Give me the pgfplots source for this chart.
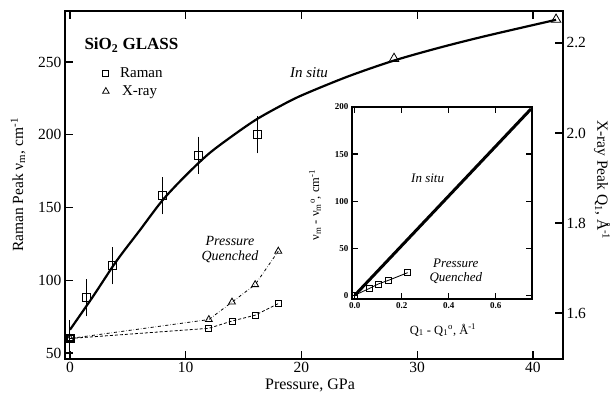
\documentclass[border=0pt]{standalone}
\usepackage{fontspec}
\setmainfont{Liberation Serif}
\usepackage{pgfplots}
\pgfplotsset{compat=1.18}
\begin{document}
\begin{tikzpicture}[x=1pt,y=1pt]
\path[use as bounding box] (-65pt,-39pt) rectangle (549pt,359pt);
\pgfplotsset{every axis/.append style={/pgf/number format/assume math mode=true}}
% main left axis
\begin{axis}[at={(0pt,0pt)}, anchor=south west, scale only axis, width=498pt, height=348pt,
  xmin=-0.43, xmax=42.6, ymin=45.9, ymax=285.05,
  xtick={0,10,20,30,40}, ytick={50,100,150,200,250},
  xtick pos=both, ytick pos=left, tick align=inside,
  major tick length=8pt, axis line style={line width=1.4pt},
  every tick/.style={line width=1.2pt, black},
  tick label style={font=\fontsize{15.5}{16}\selectfont},
  legend style={at={(0.069,0.85)}, anchor=north west, draw=none, fill=none,
    font=\fontsize{15}{15}\selectfont, row sep=3pt, legend cell align=left},
  legend image code/.code={\draw[#1] plot coordinates {(0.25cm,0cm)};},
]
\addlegendimage{only marks, mark=square, mark size=3pt, line width=0.8pt}
\addlegendentry{\hspace{9pt}Raman}
\addlegendimage{only marks, mark=triangle, mark size=3.8pt, line width=0.8pt}
\addlegendentry{\hspace{11pt}X-ray}
% in situ fit curve
\addplot[line width=2.2pt, smooth, tension=0.5] coordinates {
 (0,66) (2,89) (4,113) (6,134) (8,155) (10,172) (12,187) (14,199) (16,210)
 (18,219) (20,227) (24,240) (28,251) (32,260) (36,268) (42,279)};
% Raman in situ
\addplot[only marks, mark=square, mark size=4pt, line width=0.8pt,
  error bars/.cd, y dir=both, y explicit,
  error bar style={line width=1pt}, error mark options={mark size=4pt, line width=1pt}]
  coordinates {(0,60) +- (0,10) (1.4,88) +- (0,10) (3.7,110) +- (0,10)
   (8.0,158) +- (0,10) (11.1,186) +- (0,10) (16.2,200) +- (0,10)};
% quenched Raman
\addplot[densely dashed, line width=0.8pt, mark=square, mark size=3pt, mark options={solid}]
  coordinates {(0,60) (12,67) (14,72) (16,76) (18,84)};
% quenched X-ray
\addplot[dash dot, line width=0.8pt, mark=triangle, mark size=4pt, mark options={solid}]
  coordinates {(0,60) (12,73) (14,85) (16,97) (18,120)};
\end{axis}
% right axis
\begin{axis}[at={(0pt,0pt)}, anchor=south west, scale only axis, width=498pt, height=348pt,
  xmin=-0.43, xmax=42.6, ymin=1.4978, ymax=2.271,
  axis x line=none, axis y line*=right, tick align=inside,
  ytick={1.6,1.8,2.0,2.2}, major tick length=8pt,
  axis line style={line width=1.4pt, -},
  every tick/.style={line width=1.2pt, black},
  yticklabel style={font=\fontsize{15.5}{16}\selectfont, /pgf/number format/fixed,
    /pgf/number format/precision=1, /pgf/number format/fixed zerofill},
]
\addplot[only marks, mark=triangle, mark size=5.5pt, line width=0.8pt]
  coordinates {(28,2.165) (42,2.252)};
\end{axis}
% inset
\begin{axis}[at={(287pt,60pt)}, anchor=south west, scale only axis, width=180pt, height=192pt,
  xmin=-0.012, xmax=0.754, ymin=-4, ymax=200,
  xtick={0,0.2,0.4,0.6}, ytick={0,50,100,150,200},
  xtick pos=both, ytick pos=both, tick align=inside, major tick length=6pt,
  axis line style={line width=1.6pt},
  every tick/.style={line width=1.2pt, black},
  axis background/.style={fill=white},
  tick label style={font=\bfseries\fontsize{9}{10}\selectfont},
  xticklabel style={/pgf/number format/fixed, /pgf/number format/precision=1, /pgf/number format/fixed zerofill},
]
\addplot[line width=3pt] coordinates {(0,0) (0.75,198)};
\addplot[line width=0.8pt, mark=square, mark size=3pt]
  coordinates {(0,0) (0.06,7) (0.10,12) (0.145,16) (0.225,24)};
\node[font=\itshape\fontsize{13}{14}\selectfont] at (axis cs:0.31,124) {In situ};
\node[font=\itshape\fontsize{13}{14}\selectfont, align=center] at (axis cs:0.43,25) {Pressure\\Quenched};
\end{axis}
% texts
\node[anchor=west, font=\bfseries\fontsize{17}{20}\selectfont] at (16pt,314pt) {SiO\textsubscript{2} GLASS};
\node[font=\itshape\fontsize{15}{16}\selectfont] at (244pt,286pt) {In situ};
\node[font=\itshape\fontsize{14}{15}\selectfont, align=center] at (165pt,109pt) {Pressure\\Quenched};
\node[font=\fontsize{16}{17}\selectfont] at (245pt,-26pt) {Pressure, GPa};
\node[font=\fontsize{15.5}{16}\selectfont, rotate=90] at (-47pt,174pt) {Raman Peak ν\textsubscript{m}, cm\textsuperscript{-1}};
\node[font=\fontsize{15.5}{16}\selectfont, rotate=-90] at (537pt,179pt) {X-ray Peak Q\textsubscript{1}, Å\textsuperscript{-1}};
\node[font=\fontsize{12.5}{14}\selectfont] at (378pt,29pt) {Q\textsubscript{1} - Q\textsubscript{1}\textsuperscript{o}, Å\textsuperscript{-1}};
\node[font=\fontsize{12.5}{14}\selectfont, rotate=90] at (250pt,154pt) {ν\textsubscript{m} - ν\textsubscript{m}\textsuperscript{o}, cm\textsuperscript{-1}};
\end{tikzpicture}
\end{document}
